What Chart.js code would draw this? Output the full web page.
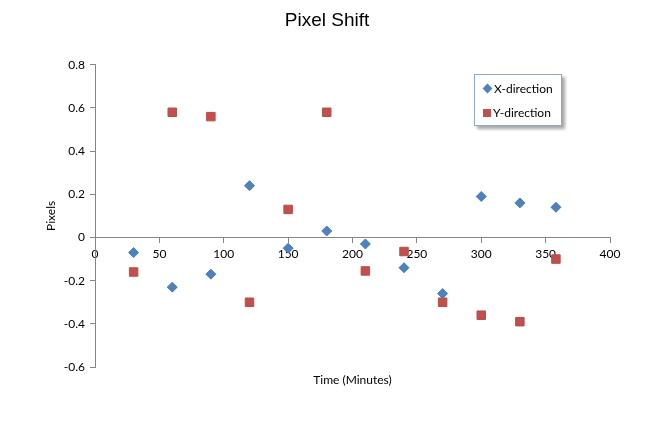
<!DOCTYPE html>
<html>
<head>
<meta charset="utf-8">
<script src="https://cdn.jsdelivr.net/npm/chart.js@4.4.1/dist/chart.umd.min.js"></script>
<style>
    body { margin: 0; background: #fff; }
    #wrap { position: relative; width: 672px; height: 432px; }
    #legend {
        position: absolute; left: 474px; top: 74px; width: 86px; height: 50px;
        border: 1px solid #8fa8c8; background: #fff;
        box-shadow: 3px 3px 3px rgba(0, 0, 0, 0.35);
        font: 12px Lato, sans-serif; color: #000;
    }
    .item { position: absolute; left: 8px; height: 14px; line-height: 14px; white-space: nowrap; }
    .mark { display: inline-block; vertical-align: middle; margin-right: 2px; position: relative; top: -1px; }
    .diamond { width: 7px; height: 7px; transform: rotate(45deg); margin-left: 1px; margin-right: 3px; }
    .square { width: 8px; height: 8px; }
</style>
</head>
<body>
<div id="wrap">
    <canvas id="shiftChart" width="672" height="432"></canvas>
    <div id="legend"></div>
</div>
<script>
const minutes = [30, 60, 90, 120, 150, 180, 210, 240, 270, 300, 330, 358];
const xShift = [-0.07, -0.23, -0.17, 0.24, -0.05, 0.03, -0.03, -0.14, -0.26, 0.19, 0.16, 0.14];
const yShift = [-0.16, 0.58, 0.56, -0.30, 0.13, 0.58, -0.155, -0.065, -0.30, -0.36, -0.39, -0.10];
const seriesNames = ['X-direction', 'Y-direction'];

const axisColor = '#868686';
const tickFont = { family: 'Lato', size: 12 };

function toPoints(values) {
    return minutes.map((m, i) => ({ x: m, y: values[i] }));
}

const chart = new Chart(document.getElementById('shiftChart'), {
    type: 'scatter',
    data: {
        datasets: [{
            label: seriesNames[0],
            data: toPoints(xShift),
            pointStyle: 'rectRot',
            pointRadius: 5,
            backgroundColor: '#4f81bd',
            borderColor: '#4a7ebb',
            borderWidth: 1
        }, {
            label: seriesNames[1],
            data: toPoints(yShift),
            pointStyle: 'rect',
            pointRadius: 6,
            backgroundColor: '#c0504d',
            borderColor: '#be4b48',
            borderWidth: 1
        }]
    },
    options: {
        responsive: false,
        animation: false,
        events: [],
        layout: { padding: { left: 0, right: 18, top: 0, bottom: 0 } },
        plugins: {
            legend: { display: false },
            tooltip: { enabled: false },
            title: {
                display: true,
                text: 'Pixel Shift',
                color: '#000',
                font: { family: 'Liberation Sans', size: 19, weight: 'normal' },
                padding: { top: 9, bottom: 33 }
            }
        },
        scales: {
            x: {
                type: 'linear',
                position: { y: 0 },
                min: 0,
                max: 400,
                ticks: { stepSize: 50, padding: 4, color: '#000', font: tickFont, maxRotation: 0 },
                grid: { drawOnChartArea: false, tickLength: 5, color: axisColor },
                border: { color: axisColor }
            },
            x2: {
                type: 'linear',
                position: 'bottom',
                min: 0,
                max: 400,
                ticks: { display: false },
                grid: { display: false },
                border: { display: false },
                title: {
                    display: true, text: 'Time (Minutes)', color: '#000', font: tickFont,
                    padding: { top: 0, bottom: 45 }
                },
                afterFit: s => { s.height = 65; }
            },
            y: {
                position: 'left',
                min: -0.6,
                max: 0.8,
                ticks: {
                    stepSize: 0.2, padding: 5, color: '#000', font: tickFont,
                    callback: v => String(Math.round(v * 10) / 10)
                },
                grid: { drawOnChartArea: false, tickLength: 5, color: axisColor },
                border: { color: axisColor },
                title: {
                    display: true, text: 'Pixels', color: '#000', font: tickFont,
                    padding: { top: 44, bottom: 0 }
                },
                afterFit: s => { s.width = 95; }
            },
            yr: {
                position: 'right',
                min: -0.6,
                max: 0.8,
                ticks: { display: false },
                grid: { display: false },
                border: { display: false },
                afterFit: s => { s.width = 44; }
            }
        }
    }
});

function buildLegend() {
    const box = document.getElementById('legend');
    chart.data.datasets.forEach((ds, i) => {
        const item = document.createElement('div');
        item.className = 'item';
        item.style.top = (7 + i * 24) + 'px';
        const mark = document.createElement('span');
        mark.className = 'mark ' + (ds.pointStyle === 'rectRot' ? 'diamond' : 'square');
        mark.style.background = ds.backgroundColor;
        item.appendChild(mark);
        item.appendChild(document.createTextNode(ds.label));
        box.appendChild(item);
    });
}

buildLegend();
</script>
</body>
</html>
